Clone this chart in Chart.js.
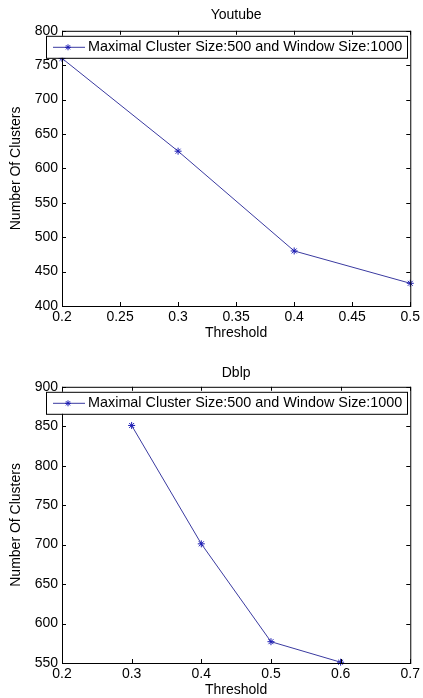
<!DOCTYPE html>
<html>
<head>
<meta charset="utf-8">
<script src="https://cdn.jsdelivr.net/npm/chart.js@4/dist/chart.umd.min.js"></script>
<style>
  html, body { margin: 0; padding: 0; background: #fff; }
  .box { position: relative; width: 423px; height: 349px; }
</style>
</head>
<body>
<div class="box"><canvas id="youtube"></canvas></div>
<div class="box"><canvas id="dblp"></canvas></div>
<script>
// Youtube data
const youtubeThreshold = [0.2, 0.3, 0.4, 0.5];
const youtubeClusters = [760, 625, 480, 433];
const youtubeXTicks = [0.2, 0.25, 0.3, 0.35, 0.4, 0.45, 0.5];
const youtubeYTicks = [400, 450, 500, 550, 600, 650, 700, 750, 800];

// Dblp data
const dblpThreshold = [0.3, 0.4, 0.5, 0.6];
const dblpClusters = [851, 701, 577, 551];
const dblpXTicks = [0.2, 0.3, 0.4, 0.5, 0.6, 0.7];
const dblpYTicks = [550, 600, 650, 700, 750, 800, 850, 900];

const legendLabel = 'Maximal Cluster Size:500 and Window Size:1000';
const FONT = 'Arial, "Liberation Sans", sans-serif';
const LINE_COLOR = '#3a3aa0';
const MARK_COLOR = '#1c1cb4';

// draws the matlab-like axes box, inward ticks and the boxed legend
const matlabBox = {
    id: 'matlabBox',
    afterDatasetsDraw(chart) {
        const { ctx, chartArea: a, scales } = chart;
        ctx.save();
        ctx.strokeStyle = '#000';
        ctx.lineWidth = 1;
        ctx.strokeRect(a.left + 0.5, a.top + 0.5, a.right - a.left, a.bottom - a.top);
        const t = 4;
        ctx.beginPath();
        scales.x.ticks.forEach(tk => {
            const px = Math.round(scales.x.getPixelForValue(tk.value)) + 0.5;
            ctx.moveTo(px, a.bottom); ctx.lineTo(px, a.bottom - t);
            ctx.moveTo(px, a.top); ctx.lineTo(px, a.top + t);
        });
        scales.y.ticks.forEach(tk => {
            const py = Math.round(scales.y.getPixelForValue(tk.value)) + 0.5;
            ctx.moveTo(a.left, py); ctx.lineTo(a.left + t, py);
            ctx.moveTo(a.right, py); ctx.lineTo(a.right - t, py);
        });
        ctx.stroke();

        // legend box
        const bx = a.left - 16, by = a.top + 5, bw = 361, bh = 22;
        ctx.fillStyle = '#fff';
        ctx.fillRect(bx, by, bw, bh);
        ctx.strokeRect(bx + 0.5, by + 0.5, bw, bh);
        const ly = by + bh / 2 + 0.5;
        ctx.strokeStyle = LINE_COLOR;
        ctx.beginPath();
        ctx.moveTo(bx + 7, ly); ctx.lineTo(bx + 39, ly);
        ctx.stroke();
        ctx.strokeStyle = MARK_COLOR;
        ctx.beginPath();
        const sx = bx + 22, r = 3;
        ctx.moveTo(sx - r, ly); ctx.lineTo(sx + r, ly);
        ctx.moveTo(sx, ly - r); ctx.lineTo(sx, ly + r);
        ctx.moveTo(sx - r * 0.7, ly - r * 0.7); ctx.lineTo(sx + r * 0.7, ly + r * 0.7);
        ctx.moveTo(sx - r * 0.7, ly + r * 0.7); ctx.lineTo(sx + r * 0.7, ly - r * 0.7);
        ctx.stroke();
        ctx.fillStyle = '#000';
        ctx.font = '14.4px ' + FONT;
        ctx.textBaseline = 'middle';
        ctx.textAlign = 'left';
        ctx.fillText(legendLabel, bx + 42, ly);
        ctx.restore();
    }
};

function makeChart(id, title, xs, ys, xTicks, yTicks, opts) {
    const data = xs.map((x, i) => ({ x: x, y: ys[i] }));
    return new Chart(document.getElementById(id), {
        type: 'line',
        data: {
            datasets: [{
                label: legendLabel,
                data: data,
                borderColor: LINE_COLOR,
                borderWidth: 1,
                pointStyle: 'star',
                pointRadius: 3.5,
                pointBorderColor: MARK_COLOR,
                pointBorderWidth: 1,
                pointBackgroundColor: MARK_COLOR,
                tension: 0,
                clip: false
            }]
        },
        options: {
            responsive: true,
            maintainAspectRatio: false,
            animation: false,
            layout: { padding: { left: 0, right: 10, top: 0, bottom: 0 } },
            plugins: {
                legend: { display: false },
                tooltip: { enabled: false },
                title: {
                    display: true,
                    text: title,
                    fullSize: false,
                    color: '#000',
                    font: { family: FONT, size: 14, weight: 'normal' },
                    padding: opts.titlePad
                }
            },
            scales: {
                x: {
                    type: 'linear',
                    min: xTicks[0],
                    max: xTicks[xTicks.length - 1],
                    afterBuildTicks: s => { s.ticks = xTicks.map(v => ({ value: v })); },
                    afterFit: s => { s.height = opts.xHeight; },
                    grid: { display: false, drawTicks: false },
                    border: { display: false },
                    ticks: {
                        color: '#000',
                        font: { family: FONT, size: 14 },
                        padding: 3,
                        maxRotation: 0,
                        autoSkip: false,
                        callback: v => String(v)
                    },
                    title: {
                        display: true,
                        text: 'Threshold',
                        color: '#000',
                        font: { family: FONT, size: 14 },
                        padding: { top: 0, bottom: opts.xTitlePad }
                    }
                },
                y: {
                    type: 'linear',
                    min: yTicks[0],
                    max: yTicks[yTicks.length - 1],
                    afterBuildTicks: s => { s.ticks = yTicks.map(v => ({ value: v })); },
                    afterFit: s => { s.width = 62; },
                    grid: { display: false, drawTicks: false },
                    border: { display: false },
                    ticks: {
                        color: '#000',
                        font: { family: FONT, size: 14 },
                        padding: 4,
                        autoSkip: false,
                        callback: v => String(v)
                    },
                    title: {
                        display: true,
                        text: 'Number Of Clusters',
                        color: '#000',
                        font: { family: FONT, size: 14 },
                        padding: { top: 8, bottom: 0 }
                    }
                }
            }
        },
        plugins: [matlabBox]
    });
}

makeChart('youtube', 'Youtube', youtubeThreshold, youtubeClusters, youtubeXTicks, youtubeYTicks,
    { titlePad: { top: 7, bottom: 7 }, xHeight: 43, xTitlePad: 7 });
makeChart('dblp', 'Dblp', dblpThreshold, dblpClusters, dblpXTicks, dblpYTicks,
    { titlePad: { top: 16, bottom: 5 }, xHeight: 35, xTitlePad: -1 });
</script>
</body>
</html>
